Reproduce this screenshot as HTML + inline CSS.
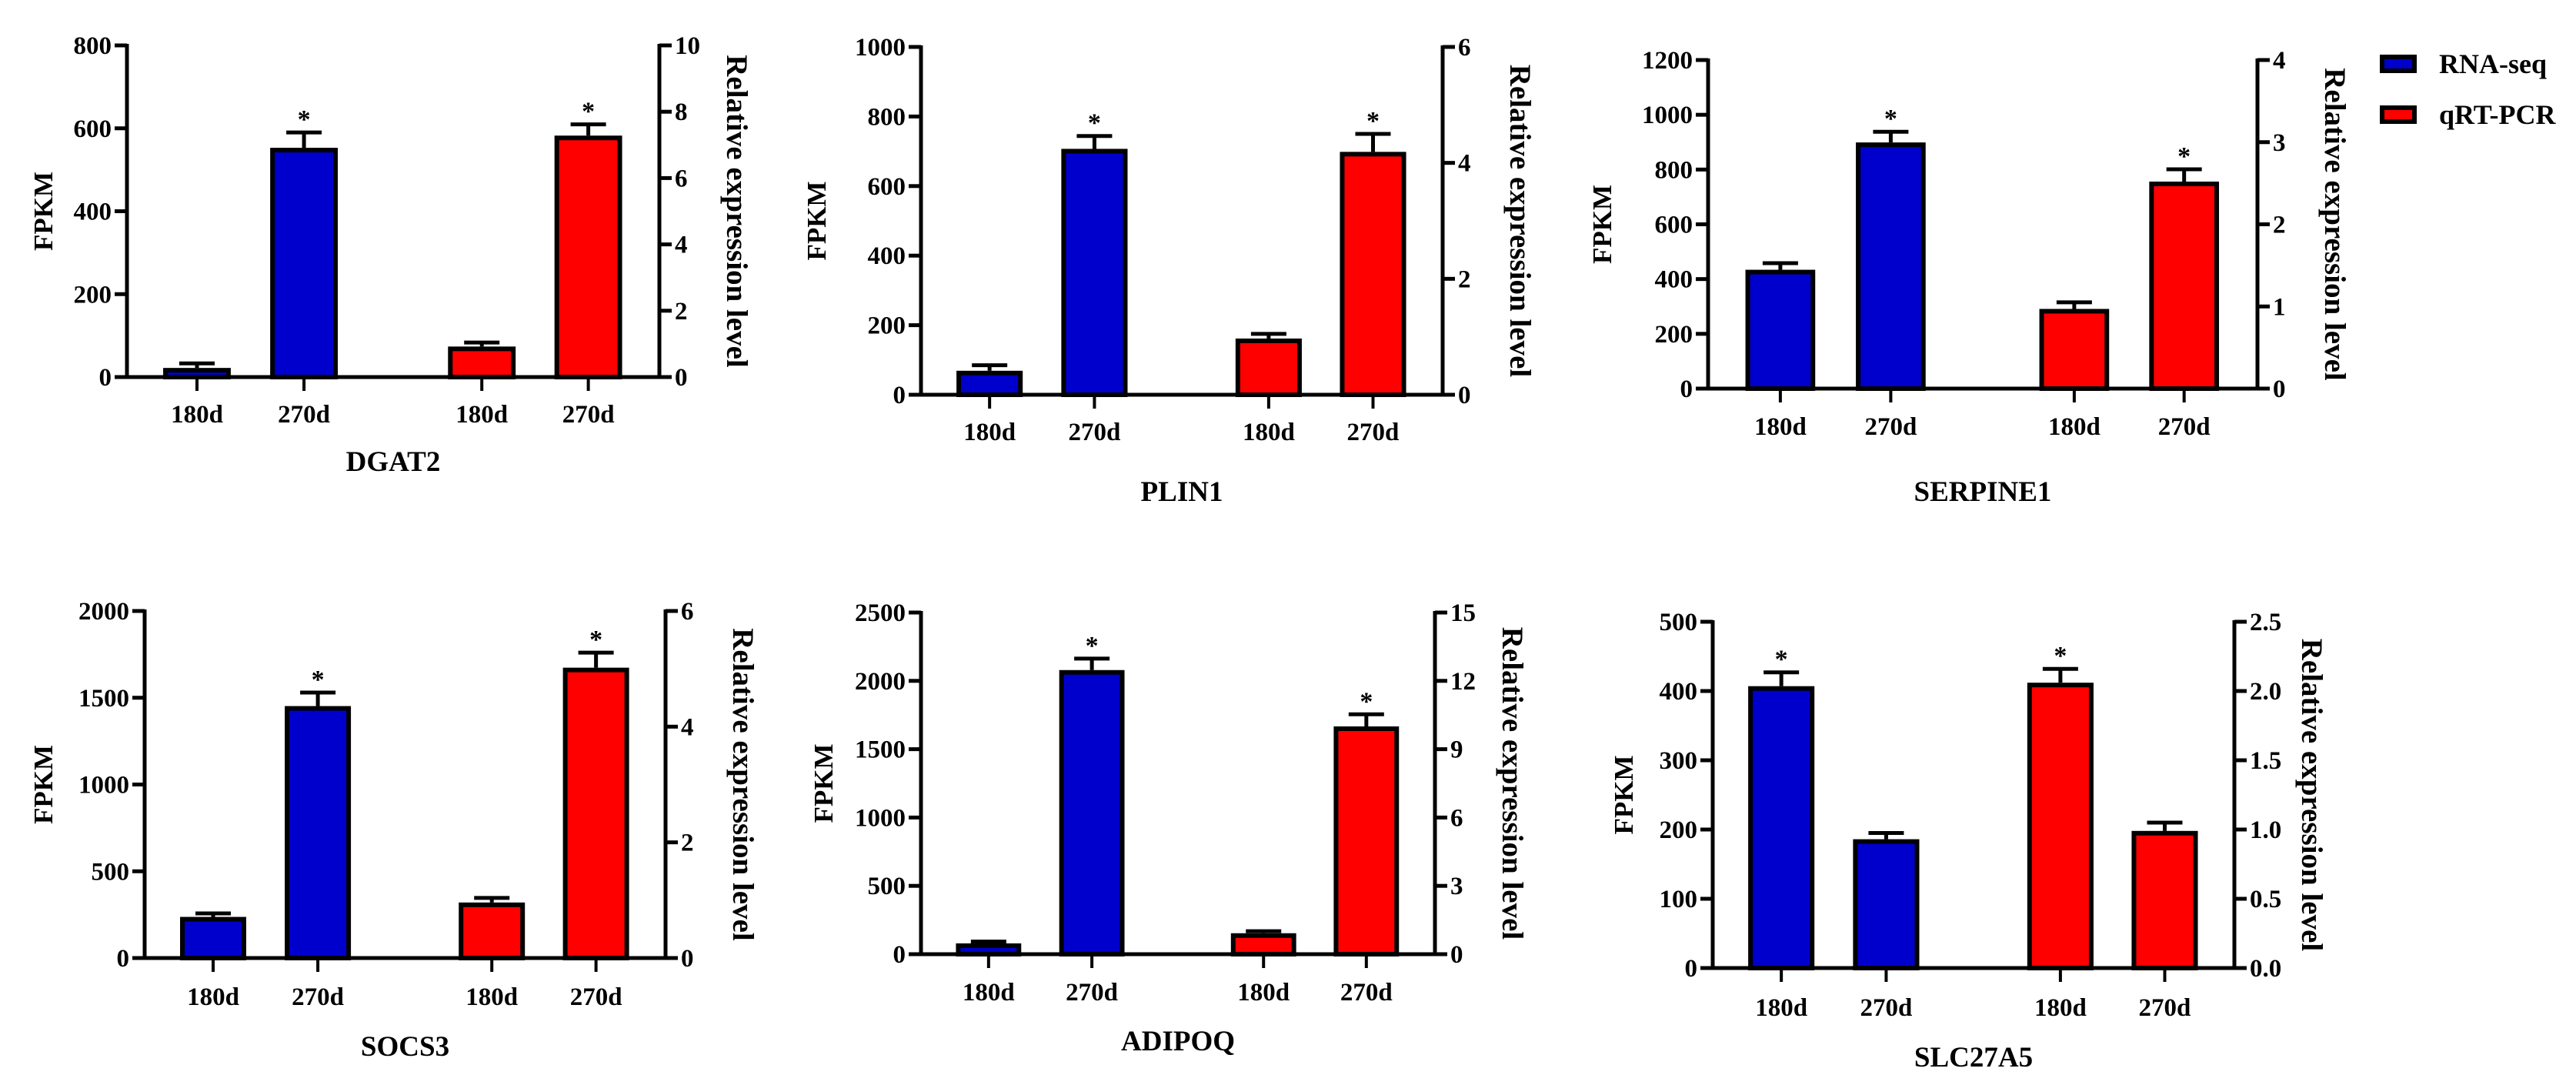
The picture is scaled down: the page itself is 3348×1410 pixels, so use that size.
<!DOCTYPE html>
<html><head><meta charset="utf-8"><style>
html,body{margin:0;padding:0;background:#fff;}
svg{display:block;}
text{font-family:"Liberation Serif",serif;}
</style></head><body>
<svg id="fig" xmlns="http://www.w3.org/2000/svg" width="3348" height="1410" viewBox="0 0 3348 1410">
<g>
<rect x="3096" y="74" width="42" height="18" fill="#0000cc" stroke="#000" stroke-width="6"/>
<text x="3170" y="95" font-size="36" font-weight="bold">RNA-seq</text>
<rect x="3096" y="140" width="42" height="18" fill="#ff0000" stroke="#000" stroke-width="6"/>
<text x="3170" y="161" font-size="36" font-weight="bold">qRT-PCR</text>
</g>
</svg>
<script>
// ----- data -----
const genes = ["DGAT2","PLIN1","SERPINE1","SOCS3","ADIPOQ","SLC27A5"];
const categories = ["180d","270d","180d","270d"];
const rnaSeqValues = [[22,553],[69,707],[434,899],[237,1452],[79,2079],[407,186]];
const rnaSeqErrors = [[11,37],[16,37],[24,39],[20,78],[13,84],[20,9]];
const qpcrValues = [[0.92,7.28],[0.97,4.19],[0.97,2.52],[0.96,5.02],[0.92,10.0],[2.06,0.99]];
const qpcrErrors = [[0.12,0.34],[0.08,0.31],[0.08,0.15],[0.08,0.26],[0.09,0.53],[0.1,0.06]];
const leftMax = [800,1000,1200,2000,2500,500];
const leftStep = [200,200,200,500,500,100];
const rightMax = [10,6,4,6,15,2.5];
const rightStep = [2,2,1,2,3,0.5];
const rightDecimals = [0,0,0,0,0,1];
const starred = [[false,true,false,true],[false,true,false,true],[false,true,false,true],[false,true,false,true],[false,true,false,true],[true,false,true,false]];

// ----- layout -----
const panels = [
 {l:165,r:857,t:59,b:490,ly:549,gy:612,fx:-109},
 {l:1197,r:1875,t:61,b:513,ly:572,gy:651,fx:-136},
 {l:2220,r:2934,t:78,b:505,ly:565,gy:651,fx:-138},
 {l:188,r:865,t:794,b:1245,ly:1306,gy:1372,fx:-132},
 {l:1197,r:1865,t:796,b:1240,ly:1300,gy:1365,fx:-127},
 {l:2226,r:2904,t:808,b:1258,ly:1320,gy:1386,fx:-116}
];
const barFrac = [0.068,0.269,0.603,0.803];
const barW = 0.127;
const NS = "http://www.w3.org/2000/svg";
const svg = document.getElementById('fig');
function mk(tag, attrs, parent){
  const e = document.createElementNS(NS, tag);
  for (const k in attrs) e.setAttribute(k, attrs[k]);
  parent.appendChild(e);
  return e;
}
genes.forEach((g, i) => {
  const P = panels[i];
  const grp = mk('g', {}, svg);
  
  
  const w = P.r - P.l;
  const yL = v => P.b - v / leftMax[i] * (P.b - P.t);
  const yR = v => P.b - v / rightMax[i] * (P.b - P.t);
  for (let k = 0; k < 4; k++) {
    const isRna = k < 2;
    const val = isRna ? rnaSeqValues[i][k] : qpcrValues[i][k-2];
    const err = isRna ? rnaSeqErrors[i][k] : qpcrErrors[i][k-2];
    const ys = isRna ? yL : yR;
    const x0 = P.l + barFrac[k] * w, bw = barW * w, cx = x0 + bw / 2;
    const yTop = ys(val), yErr = ys(val + err);
    const eb = mk('line', {x1:cx, x2:cx, y1:yTop, y2:yErr, stroke:'#000', 'stroke-width':5}, grp);
    
    
    const cap = mk('line', {x1:cx-23, x2:cx+23, y1:yErr, y2:yErr, stroke:'#000', 'stroke-width':5}, grp);
    
    
    const bar = mk('rect', {x:x0+3, y:yTop+3, width:bw-6, height:Math.max(P.b-yTop-3,0), fill:isRna?'#0000cc':'#ff0000', stroke:'#000', 'stroke-width':6}, grp);
    
    
    if (starred[i][k]) {
      const s = mk('text', {x:cx, y:yErr-6, 'font-size':34, 'font-weight':'bold', 'text-anchor':'middle'}, grp);
      s.textContent = '*';
      
      
    }
    const ct = mk('line', {x1:cx, x2:cx, y1:P.b, y2:P.b+18, stroke:'#000', 'stroke-width':4}, grp);
    
    
    const cl = mk('text', {x:cx, y:P.ly, 'font-size':33, 'font-weight':'bold', 'text-anchor':'middle'}, grp);
    cl.textContent = categories[k];
    
    
  }
  const la = mk('line', {x1:P.l, x2:P.l, y1:P.t-2, y2:P.b+2, stroke:'#000', 'stroke-width':5}, grp);
  
  
  const ra = mk('line', {x1:P.r, x2:P.r, y1:P.t-2, y2:P.b+2, stroke:'#000', 'stroke-width':5}, grp);
  
  
  const xa = mk('line', {x1:P.l-16, x2:P.r+16, y1:P.b, y2:P.b, stroke:'#000', 'stroke-width':5}, grp);
  
  
  for (let v = 0; v <= leftMax[i] + 1e-9; v += leftStep[i]) {
    const y = yL(v);
    const t = mk('line', {x1:P.l-16, x2:P.l, y1:y, y2:y, stroke:'#000', 'stroke-width':5}, grp);
    
    
    const tl = mk('text', {x:P.l-20, y:y+11, 'font-size':33, 'font-weight':'bold', 'text-anchor':'end'}, grp);
    tl.textContent = String(Math.round(v));
    
    
  }
  for (let v = 0; v <= rightMax[i] + 1e-9; v += rightStep[i]) {
    const y = yR(v);
    const t = mk('line', {x1:P.r, x2:P.r+16, y1:y, y2:y, stroke:'#000', 'stroke-width':5}, grp);
    
    
    const tl = mk('text', {x:P.r+20, y:y+11, 'font-size':33, 'font-weight':'bold'}, grp);
    tl.textContent = v.toFixed(rightDecimals[i]);
    
    
  }
  const my = (P.t + P.b) / 2;
  const fy = mk('text', {x:0, y:0, 'font-size':35, 'font-weight':'bold', 'text-anchor':'middle', transform:`translate(${P.l+P.fx+12},${my}) rotate(-90)`}, grp);
  fy.textContent = 'FPKM';
  
  
  const ry = mk('text', {x:0, y:0, 'font-size':39, 'font-weight':'bold', 'text-anchor':'middle', transform:`translate(${P.r+88},${my}) rotate(90)`}, grp);
  ry.textContent = 'Relative expression level';
  
  
  const gl = mk('text', {x:(P.l+P.r)/2, y:P.gy, 'font-size':37, 'font-weight':'bold', 'text-anchor':'middle'}, grp);
  gl.textContent = g;
  
  
});
</script>
</body></html>
